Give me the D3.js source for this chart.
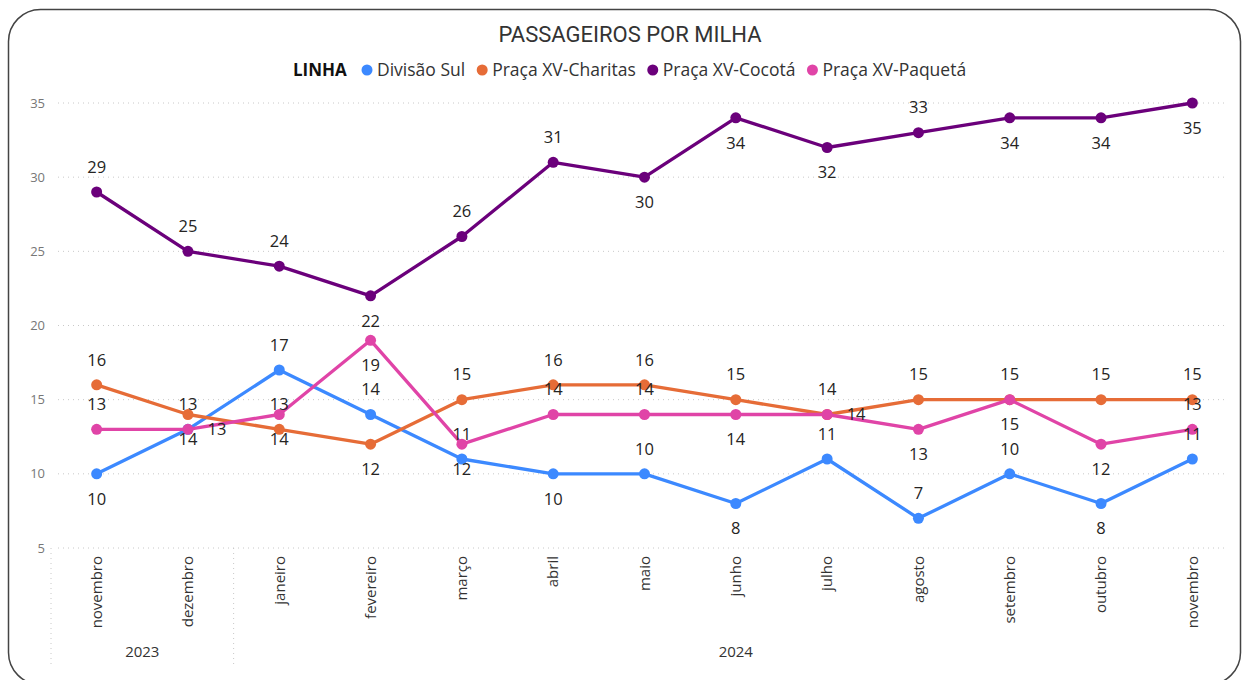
<!DOCTYPE html>
<html>
<head>
<meta charset="utf-8">
<script src="https://cdn.jsdelivr.net/npm/d3@7"></script>
<style>
  body { margin: 0; background: #fff; }
  svg { display: block; }
</style>
</head>
<body>
<div class="chart"></div>
<script>
var W = 1243, H = 680;

// data
var months = ["novembro", "dezembro", "janeiro", "fevereiro", "março", "abril", "maio",
              "junho", "julho", "agosto", "setembro", "outubro", "novembro"];
var years = ["2023", "2023", "2024", "2024", "2024", "2024", "2024",
             "2024", "2024", "2024", "2024", "2024", "2024"];
var seriesNames = ["Divisão Sul", "Praça XV-Charitas", "Praça XV-Cocotá", "Praça XV-Paquetá"];
var divisaoSul = [10, 13, 17, 14, 11, 10, 10, 8, 11, 7, 10, 8, 11];
var charitas   = [16, 14, 13, 12, 15, 16, 16, 15, 14, 15, 15, 15, 15];
var cocota     = [29, 25, 24, 22, 26, 31, 30, 34, 32, 33, 34, 34, 35];
var paqueta    = [13, 13, 14, 19, 12, 14, 14, 14, 14, 13, 15, 12, 13];
var yTicks = [5, 10, 15, 20, 25, 30, 35];

// where each data label sits (a = above, b = below, r = right)
var sulPos      = ["b","a","a","a","a","b","a","b","a","a","a","b","a"];
var charitasPos = ["a","b","a","b","a","a","a","a","a","a","a","a","a"];
var cocotaPos   = ["a","a","a","b","a","a","b","b","b","a","b","b","b"];
var paquetaPos  = ["a","r","b","b","b","a","a","b","r","b","b","b","a"];

var colors = ["#3C89FF", "#E66C37", "#6B007B", "#E044A7"];

var series = [
  { name: seriesNames[0], values: divisaoSul, pos: sulPos, color: colors[0] },
  { name: seriesNames[1], values: charitas, pos: charitasPos, color: colors[1] },
  { name: seriesNames[2], values: cocota, pos: cocotaPos, color: colors[2] },
  { name: seriesNames[3], values: paqueta, pos: paquetaPos, color: colors[3] }
];

var svg = d3.select(".chart").append("svg")
    .attr("width", W).attr("height", H)
    .style("font-family", "'Open Sans', 'Noto Sans', sans-serif");

// card frame
svg.append("rect")
    .attr("x", 8.5).attr("y", 9.5)
    .attr("width", 1232).attr("height", 675)
    .attr("rx", 32).attr("ry", 32)
    .attr("fill", "#fff")
    .attr("stroke", "#444").attr("stroke-width", 1.5);

// title
svg.append("text")
    .attr("x", 630).attr("y", 42)
    .attr("text-anchor", "middle")
    .style("font-family", "Roboto, sans-serif")
    .style("font-size", "22px")
    .attr("fill", "#333")
    .text("PASSAGEIROS POR MILHA");

// scales
var idx = months.map(function(d, i){ return i; });
var x = d3.scalePoint().domain(idx).range([51, 1238]).padding(0.5);
var y = d3.scaleLinear().domain([5, 35]).range([548, 103]);

// legend
var legend = svg.append("g").attr("transform", "translate(293,70)");
legend.append("text")
    .attr("y", 0).attr("dy", "0.35em")
    .style("font-size", "17px").style("font-weight", "bold")
    .attr("fill", "#111")
    .text("LINHA");
var lx = 74; // center of first marker
series.forEach(function(s){
    legend.append("circle").attr("cx", lx).attr("cy", 0).attr("r", 5.5).attr("fill", s.color);
    var t = legend.append("text")
        .attr("x", lx + 10).attr("dy", "0.35em")
        .style("font-size", "17.5px")
        .attr("fill", "#333")
        .text(s.name);
    lx += 10 + t.node().getComputedTextLength() + 17;
});

// gridlines + y labels
var grid = svg.append("g");
grid.selectAll("line").data(yTicks).enter().append("line")
    .attr("x1", 58).attr("x2", 1228)
    .attr("y1", function(d){ return y(d); }).attr("y2", function(d){ return y(d); })
    .attr("stroke", "#c8c8c8").attr("stroke-width", 1)
    .attr("stroke-dasharray", "1,4");
grid.selectAll("text").data(yTicks).enter().append("text")
    .attr("x", 45).attr("y", function(d){ return y(d); })
    .attr("dy", "0.35em")
    .attr("text-anchor", "end")
    .style("font-size", "13px")
    .attr("fill", "#777")
    .text(function(d){ return d; });

// month labels (rotated)
svg.append("g").selectAll("text").data(idx).enter().append("text")
    .attr("transform", function(i){ return "translate(" + x(i) + ",556) rotate(-90)"; })
    .attr("text-anchor", "end")
    .attr("dy", "0.35em")
    .style("font-size", "15px")
    .attr("fill", "#333")
    .text(function(i){ return months[i]; });

// year groups
var yearNames = Array.from(new Set(years));
var sepY1 = 548, sepY2 = 667;
svg.append("line").attr("x1", 51).attr("x2", 51).attr("y1", sepY1).attr("y2", sepY2)
    .attr("stroke", "#c8c8c8").attr("stroke-dasharray", "1,4");
yearNames.forEach(function(yr, k){
    var ids = idx.filter(function(i){ return years[i] === yr; });
    var x0 = x(ids[0]), x1 = x(ids[ids.length - 1]);
    svg.append("text")
        .attr("x", (x0 + x1) / 2).attr("y", 652)
        .attr("dy", "0.35em")
        .attr("text-anchor", "middle")
        .style("font-size", "15px")
        .attr("fill", "#333")
        .text(yr);
    if (k < yearNames.length - 1) { // separator between years
        var sx = x1 + x.step() / 2;
        svg.append("line").attr("x1", sx).attr("x2", sx).attr("y1", sepY1).attr("y2", sepY2)
            .attr("stroke", "#c8c8c8").attr("stroke-dasharray", "1,4");
    }
});

// lines and markers
var line = d3.line()
    .x(function(d, i){ return x(i); })
    .y(function(d){ return y(d); });

series.forEach(function(s){
    var g = svg.append("g");
    g.append("path")
        .attr("d", line(s.values))
        .attr("fill", "none")
        .attr("stroke", s.color)
        .attr("stroke-width", 3.3)
        .attr("stroke-linejoin", "round");
    g.selectAll("circle").data(s.values).enter().append("circle")
        .attr("cx", function(d, i){ return x(i); })
        .attr("cy", function(d){ return y(d); })
        .attr("r", 5.5)
        .attr("fill", s.color);
});

// data labels drawn last so they sit on top
series.forEach(function(s){
    svg.append("g").selectAll("text").data(s.values).enter().append("text")
        .attr("x", function(d, i){ return x(i) + (s.pos[i] === "r" ? 29 : 0); })
        .attr("y", function(d, i){
            var p = s.pos[i];
            return y(d) + (p === "a" ? -25 : p === "b" ? 25 : 0);
        })
        .attr("dy", "0.35em")
        .attr("text-anchor", "middle")
        .style("font-size", "16.5px")
        .attr("fill", "#252423")
        .text(function(d){ return d; });
});
</script>
</body>
</html>
